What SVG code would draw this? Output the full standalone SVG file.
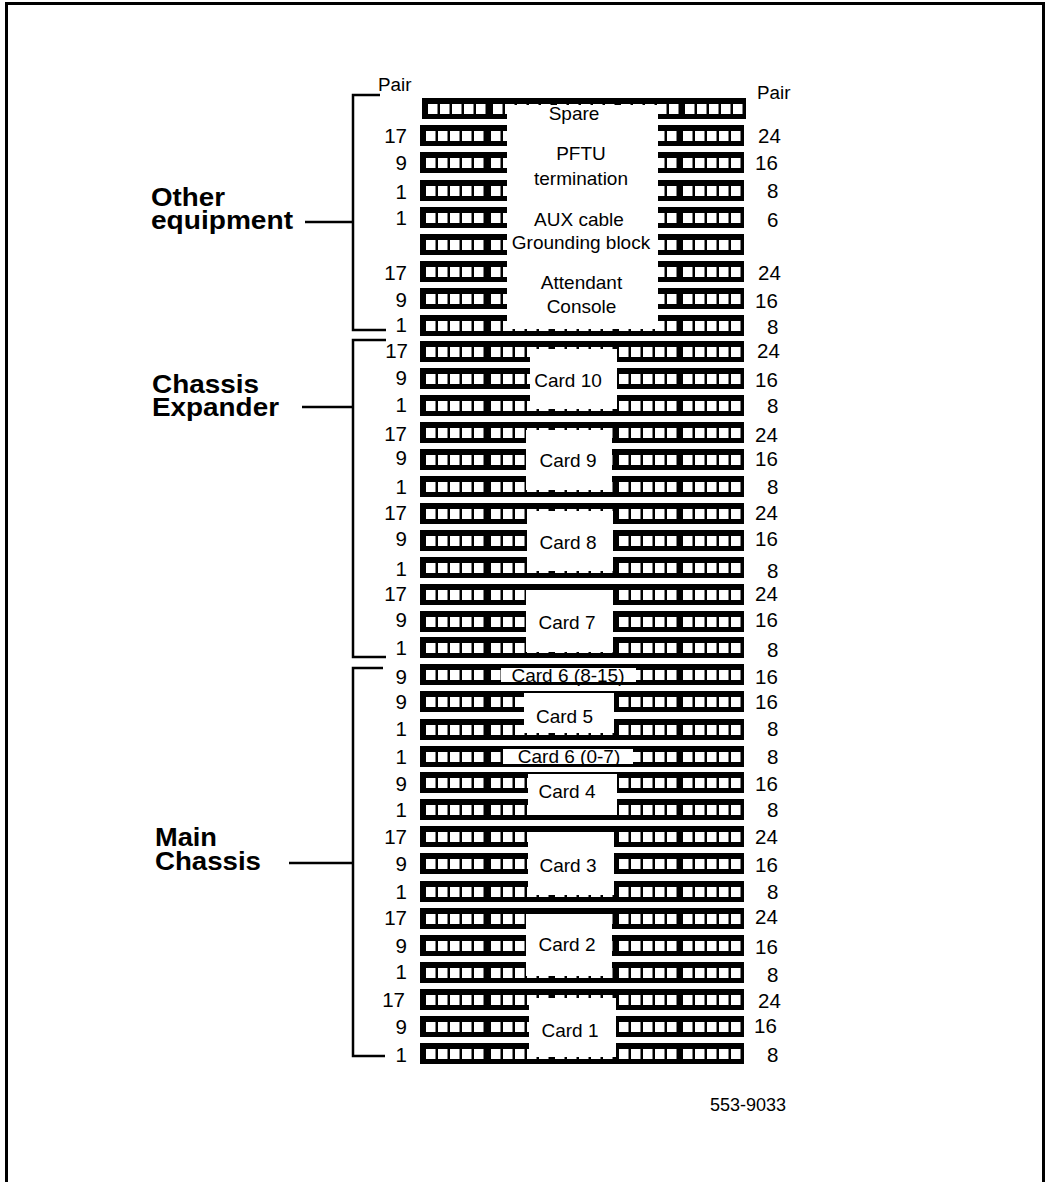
<svg xmlns="http://www.w3.org/2000/svg" xmlns:xlink="http://www.w3.org/1999/xlink" width="1048" height="1182" viewBox="0 0 1048 1182">
<style>
text{font-family:"Liberation Sans",Arial,sans-serif;fill:#000}
.n{font-size:20.5px}
.r{text-anchor:end}
.c{font-size:19px;text-anchor:middle}
.p{font-size:18.8px}
.b{font-size:25.5px;font-weight:bold}
.cov{fill:#fff}
.l{fill:none;stroke:#000;stroke-width:2.5}
</style>
<defs>
<g id="row">
<rect x="420" y="0" width="324" height="21" fill="#000"/>
<g fill="#fff">
<rect x="426" y="6" width="9.5" height="10"/><rect x="438" y="6" width="9.5" height="10"/><rect x="450" y="6" width="9.5" height="10"/><rect x="462" y="6" width="9.5" height="10"/><rect x="474" y="6" width="9.5" height="10"/>
<rect x="491" y="6" width="9.5" height="10"/><rect x="503" y="6" width="9.5" height="10"/><rect x="515" y="6" width="9.5" height="10"/><rect x="527" y="6" width="9.5" height="10"/><rect x="539" y="6" width="9.5" height="10"/>
<rect x="555" y="6" width="9.5" height="10"/><rect x="567" y="6" width="9.5" height="10"/><rect x="579" y="6" width="9.5" height="10"/><rect x="591" y="6" width="9.5" height="10"/><rect x="603" y="6" width="9.5" height="10"/>
<rect x="619" y="6" width="9.5" height="10"/><rect x="631" y="6" width="9.5" height="10"/><rect x="643" y="6" width="9.5" height="10"/><rect x="655" y="6" width="9.5" height="10"/><rect x="667" y="6" width="9.5" height="10"/>
<rect x="683" y="6" width="9.5" height="10"/><rect x="695" y="6" width="9.5" height="10"/><rect x="707" y="6" width="9.5" height="10"/><rect x="719" y="6" width="9.5" height="10"/><rect x="731" y="6" width="9.5" height="10"/>
</g>
</g>
</defs>
<path id="frame" d="M6.5 1182V3.5H1043.5V1182" fill="none" stroke="#000" stroke-width="3"/>
<g id="connectors">
<path class="l" d="M380 95H353V330H386"/>
<path class="l" d="M305 222H353"/>
<path class="l" d="M386 340H353V657H386"/>
<path class="l" d="M302 407H353"/>
<path class="l" d="M383 668H353V1056H385"/>
<path class="l" d="M289 863H353"/>
</g>
<g id="rows">
<use xlink:href="#row" href="#row" x="2" y="98"/>
<use xlink:href="#row" href="#row" y="125"/>
<use xlink:href="#row" href="#row" y="152"/>
<use xlink:href="#row" href="#row" y="180"/>
<use xlink:href="#row" href="#row" y="207"/>
<use xlink:href="#row" href="#row" y="234"/>
<use xlink:href="#row" href="#row" y="261"/>
<use xlink:href="#row" href="#row" y="288"/>
<use xlink:href="#row" href="#row" y="315"/>
<use xlink:href="#row" href="#row" y="341"/>
<use xlink:href="#row" href="#row" y="368"/>
<use xlink:href="#row" href="#row" y="395"/>
<use xlink:href="#row" href="#row" y="422"/>
<use xlink:href="#row" href="#row" y="449"/>
<use xlink:href="#row" href="#row" y="476"/>
<use xlink:href="#row" href="#row" y="503"/>
<use xlink:href="#row" href="#row" y="530"/>
<use xlink:href="#row" href="#row" y="557"/>
<use xlink:href="#row" href="#row" y="584"/>
<use xlink:href="#row" href="#row" y="611"/>
<use xlink:href="#row" href="#row" y="637"/>
<use xlink:href="#row" href="#row" y="664"/>
<use xlink:href="#row" href="#row" y="691"/>
<use xlink:href="#row" href="#row" y="719"/>
<use xlink:href="#row" href="#row" y="746"/>
<use xlink:href="#row" href="#row" y="772"/>
<use xlink:href="#row" href="#row" y="799"/>
<use xlink:href="#row" href="#row" y="826"/>
<use xlink:href="#row" href="#row" y="853"/>
<use xlink:href="#row" href="#row" y="881"/>
<use xlink:href="#row" href="#row" y="908"/>
<use xlink:href="#row" href="#row" y="935"/>
<use xlink:href="#row" href="#row" y="962"/>
<use xlink:href="#row" href="#row" y="989"/>
<use xlink:href="#row" href="#row" y="1016"/>
<use xlink:href="#row" href="#row" y="1043"/>
</g>
<g id="covers" class="cov">
<rect x="507" y="105" width="151" height="224"/>
<rect x="530" y="349" width="87" height="60"/>
<rect x="526" y="430" width="86" height="60"/>
<rect x="527" y="511" width="86" height="60"/>
<rect x="526" y="590" width="87" height="62"/>
<rect x="501" y="668" width="135" height="14"/>
<rect x="524" y="693" width="90" height="40"/>
<rect x="503" y="749" width="130" height="15"/>
<rect x="528" y="774" width="89" height="41"/>
<rect x="528" y="832" width="86" height="63"/>
<rect x="526" y="914" width="86" height="62"/>
<rect x="529" y="998" width="87" height="59"/>
</g>
<g id="labels-covers">
<text class="c" x="574" y="120">Spare</text>
<text class="c" x="581" y="160">PFTU</text>
<text class="c" x="581" y="185">termination</text>
<text class="c" x="579" y="226">AUX cable</text>
<text class="c" x="581" y="249">Grounding block</text>
<text class="c" x="581.5" y="289">Attendant</text>
<text class="c" x="581.5" y="313">Console</text>
<text class="c" x="568" y="387">Card 10</text>
<text class="c" x="568" y="467">Card 9</text>
<text class="c" x="568" y="549">Card 8</text>
<text class="c" x="567" y="629">Card 7</text>
<text class="c" x="568" y="682">Card 6 (8-15)</text>
<text class="c" x="564.5" y="723">Card 5</text>
<text class="c" x="569" y="763">Card 6 (0-7)</text>
<text class="c" x="567" y="798">Card 4</text>
<text class="c" x="568" y="872">Card 3</text>
<text class="c" x="567" y="951">Card 2</text>
<text class="c" x="570" y="1037">Card 1</text>
</g>
<g id="labels-left">
<text class="p" x="378" y="91">Pair</text>
<text class="n r" x="407" y="142.5">17</text>
<text class="n r" x="407" y="170">9</text>
<text class="n r" x="407" y="198.5">1</text>
<text class="n r" x="407" y="225">1</text>
<text class="n r" x="407" y="279.5">17</text>
<text class="n r" x="407" y="307">9</text>
<text class="n r" x="407" y="332">1</text>
<text class="n r" x="408" y="358">17</text>
<text class="n r" x="407" y="385">9</text>
<text class="n r" x="407" y="412">1</text>
<text class="n r" x="407" y="441">17</text>
<text class="n r" x="407" y="465">9</text>
<text class="n r" x="407" y="493.5">1</text>
<text class="n r" x="407" y="519.5">17</text>
<text class="n r" x="407" y="545.5">9</text>
<text class="n r" x="407" y="575.5">1</text>
<text class="n r" x="407" y="600.5">17</text>
<text class="n r" x="407" y="626.5">9</text>
<text class="n r" x="407" y="655">1</text>
<text class="n r" x="407" y="684">9</text>
<text class="n r" x="407" y="709">9</text>
<text class="n r" x="407" y="736">1</text>
<text class="n r" x="407" y="764">1</text>
<text class="n r" x="407" y="790.5">9</text>
<text class="n r" x="407" y="816.5">1</text>
<text class="n r" x="407" y="843.5">17</text>
<text class="n r" x="407" y="870.5">9</text>
<text class="n r" x="407" y="898.5">1</text>
<text class="n r" x="407" y="924.5">17</text>
<text class="n r" x="407" y="952.5">9</text>
<text class="n r" x="407" y="978.5">1</text>
<text class="n r" x="405" y="1006.5">17</text>
<text class="n r" x="407" y="1033.5">9</text>
<text class="n r" x="407" y="1061.5">1</text>
</g>
<g id="labels-right">
<text class="p" x="757" y="99">Pair</text>
<text class="n" x="758" y="142.5">24</text>
<text class="n" x="755" y="170">16</text>
<text class="n" x="767" y="197.5">8</text>
<text class="n" x="767" y="226.5">6</text>
<text class="n" x="758" y="279.5">24</text>
<text class="n" x="755" y="307.5">16</text>
<text class="n" x="767" y="333.5">8</text>
<text class="n" x="757" y="357.5">24</text>
<text class="n" x="755" y="386.5">16</text>
<text class="n" x="767" y="412.5">8</text>
<text class="n" x="755" y="441.5">24</text>
<text class="n" x="755" y="465.5">16</text>
<text class="n" x="767" y="493.5">8</text>
<text class="n" x="755" y="519.5">24</text>
<text class="n" x="755" y="545.5">16</text>
<text class="n" x="767" y="577.5">8</text>
<text class="n" x="755" y="600.5">24</text>
<text class="n" x="755" y="626.5">16</text>
<text class="n" x="767" y="656.5">8</text>
<text class="n" x="755" y="683.5">16</text>
<text class="n" x="755" y="708.5">16</text>
<text class="n" x="767" y="735.5">8</text>
<text class="n" x="767" y="763.5">8</text>
<text class="n" x="755" y="790.5">16</text>
<text class="n" x="767" y="816.5">8</text>
<text class="n" x="755" y="843.5">24</text>
<text class="n" x="755" y="871.5">16</text>
<text class="n" x="767" y="898.5">8</text>
<text class="n" x="755" y="923.5">24</text>
<text class="n" x="755" y="953.5">16</text>
<text class="n" x="767" y="981.5">8</text>
<text class="n" x="758" y="1007.5">24</text>
<text class="n" x="754" y="1033">16</text>
<text class="n" x="767" y="1061.5">8</text>
</g>
<g id="group-labels">
<text class="b" x="151" y="205.5" textLength="74" lengthAdjust="spacingAndGlyphs">Other</text>
<text class="b" x="151" y="228.5" textLength="142" lengthAdjust="spacingAndGlyphs">equipment</text>
<text class="b" x="152" y="393" textLength="107" lengthAdjust="spacingAndGlyphs">Chassis</text>
<text class="b" x="152" y="416" textLength="127" lengthAdjust="spacingAndGlyphs">Expander</text>
<text class="b" x="155" y="846" textLength="62" lengthAdjust="spacingAndGlyphs">Main</text>
<text class="b" x="155" y="870" textLength="106" lengthAdjust="spacingAndGlyphs">Chassis</text>
</g>
<text id="figure-number" x="710" y="1111" font-size="18">553-9033</text>
</svg>
